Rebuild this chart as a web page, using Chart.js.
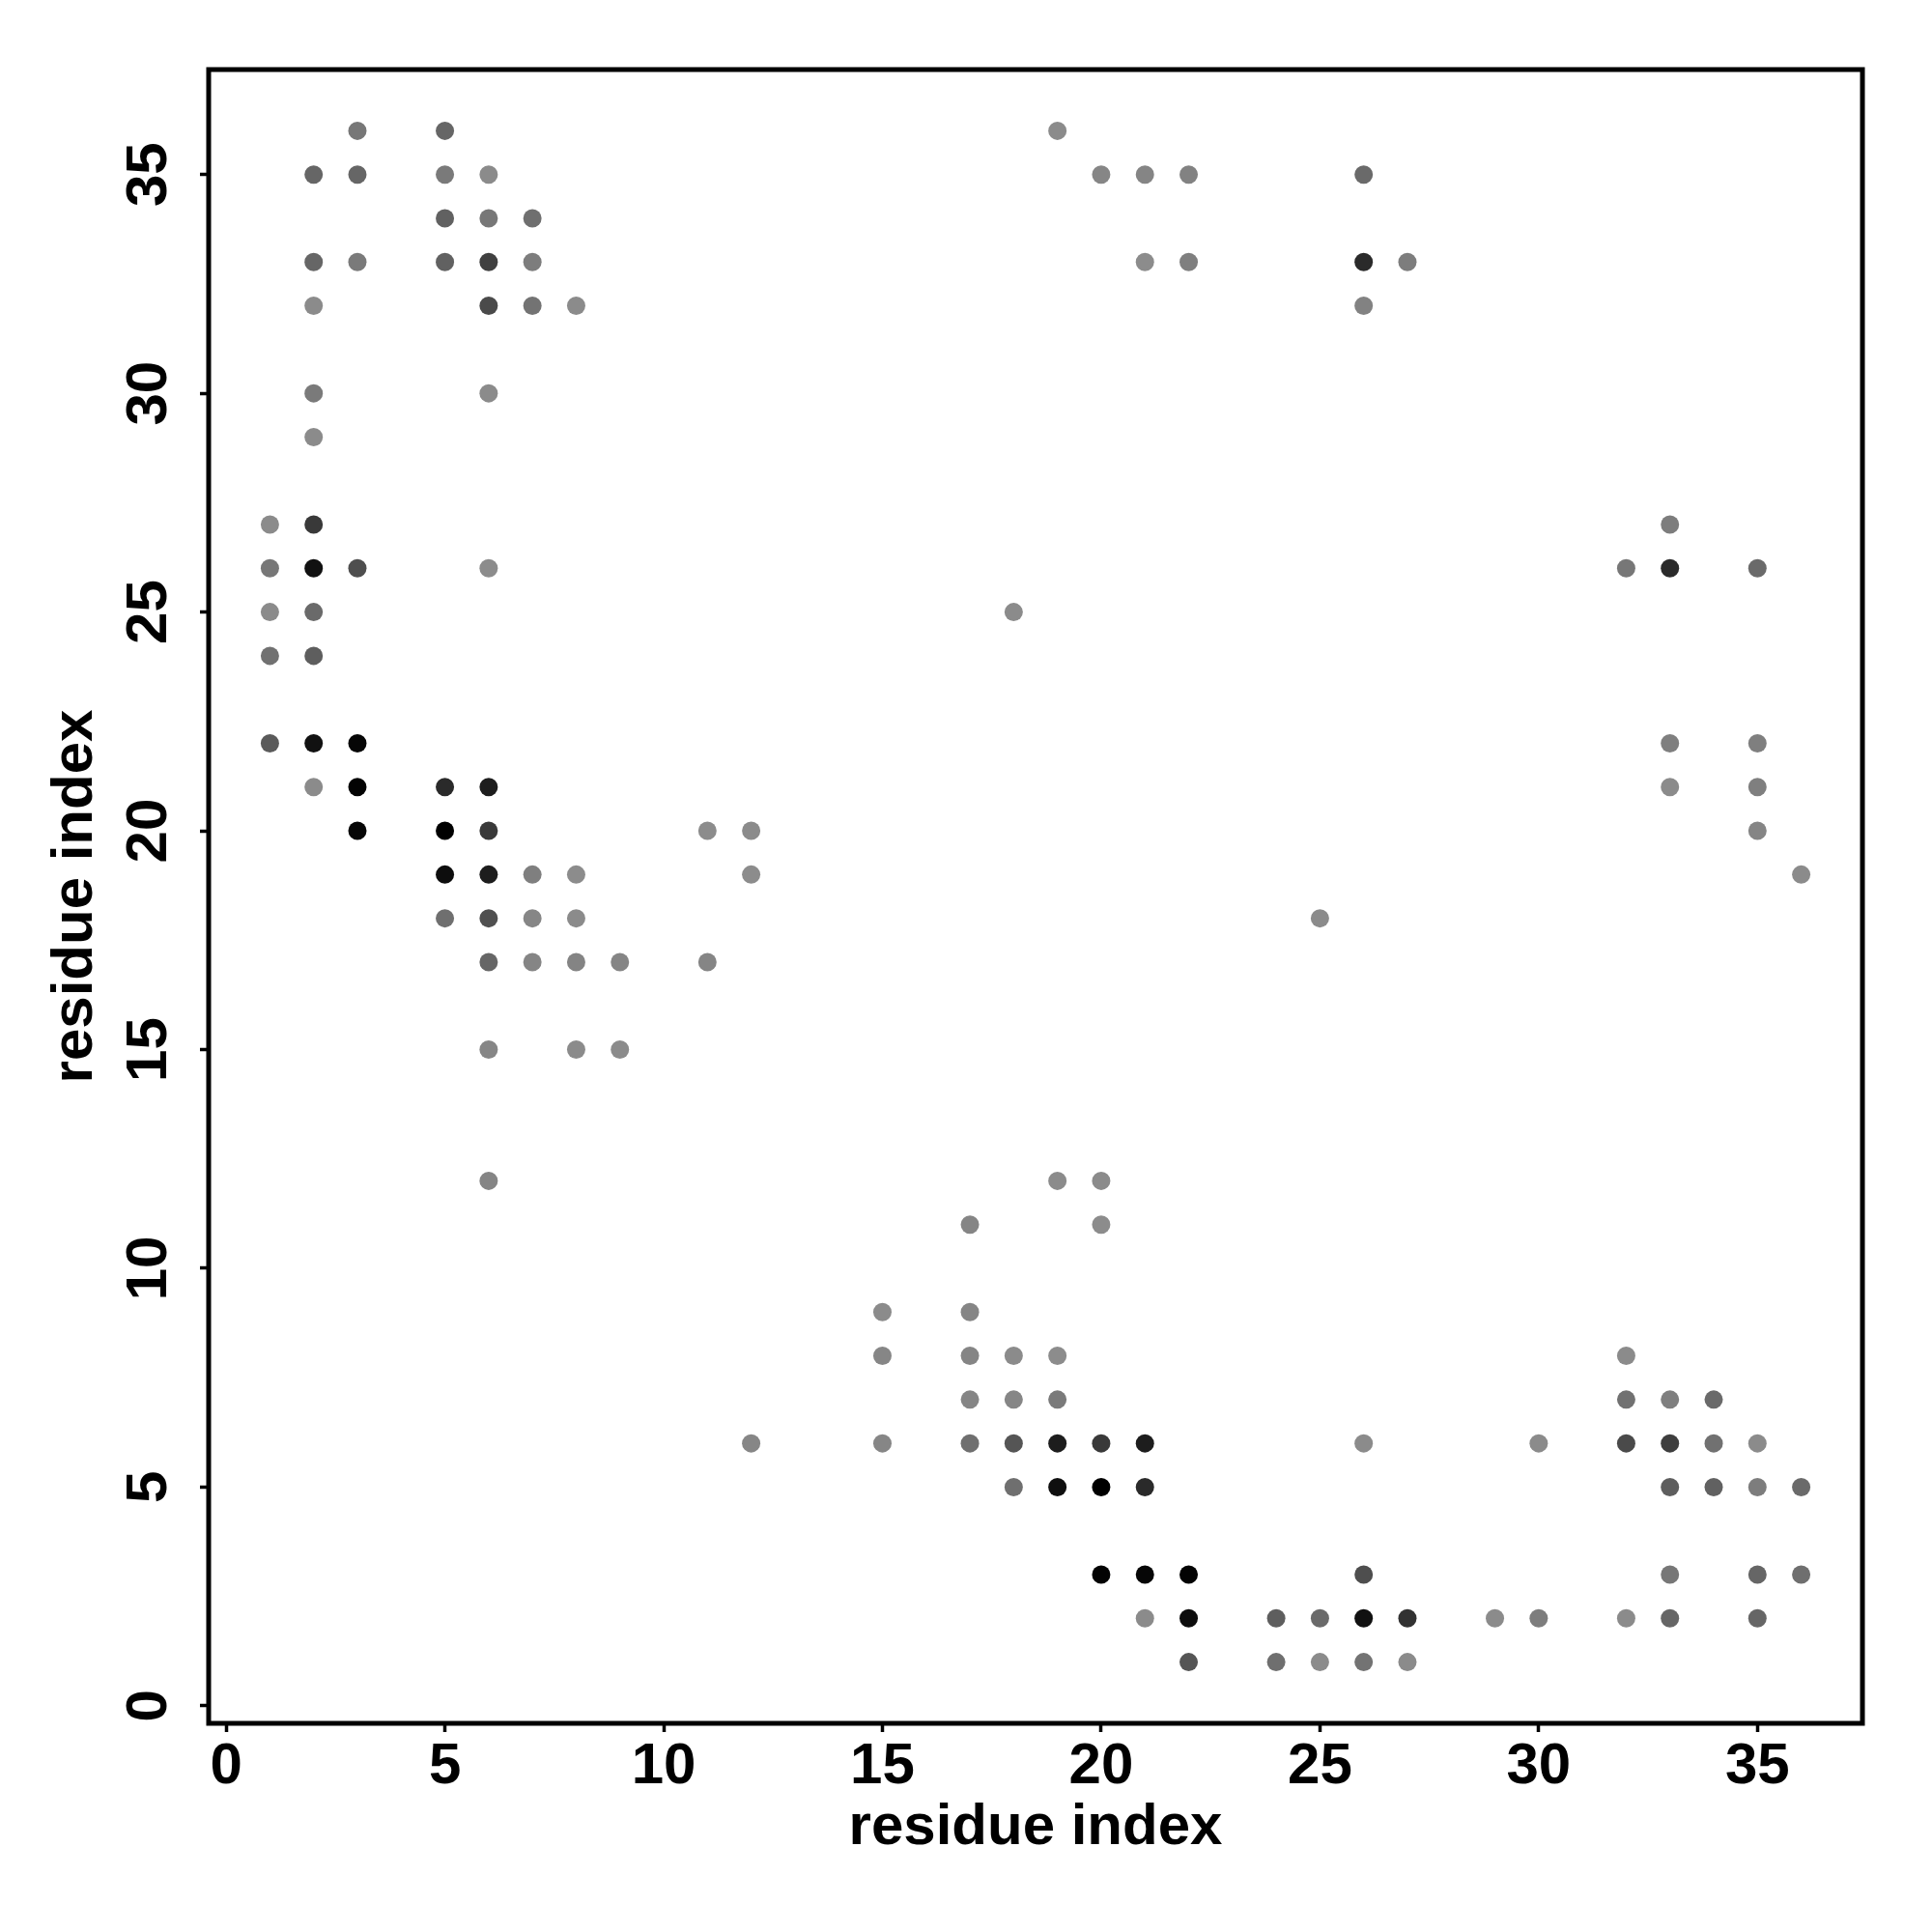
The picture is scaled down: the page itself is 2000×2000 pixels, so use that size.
<!DOCTYPE html>
<html>
<head>
<meta charset="utf-8">
<script src="https://cdn.jsdelivr.net/npm/chart.js@4.4.1/dist/chart.umd.min.js"></script>
<style>
  html, body { margin: 0; padding: 0; background: #fff; }
  canvas { display: block; }
</style>
</head>
<body>
<canvas id="contactMap" width="2000" height="2000"></canvas>
<script>
// residue pairs (column i, row j) and contact strength 0..1 (0 = light grey, 1 = black)
var RES_X = [
  1,1,1,1,1,
  2,2,2,2,2,2,2,2,2,2,2,
  3,3,3,3,3,3,3,
  5,5,5,5,5,5,5,5,
  6,6,6,6,6,6,6,6,6,6,6,6,6,
  7,7,7,7,7,7,
  8,8,8,8,8,
  9,9,
  11,11,
  12,12,12,
  15,15,15,
  17,17,17,17,17,
  18,18,18,18,18,
  19,19,19,19,19,19,
  20,20,20,20,20,20,
  21,21,21,21,21,21,
  22,22,22,22,22,
  24,24,
  25,25,25,
  26,26,26,26,26,26,26,
  27,27,27,
  29,
  30,30,
  32,32,32,32,32,
  33,33,33,33,33,33,33,33,33,
  34,34,34,
  35,35,35,35,35,35,35,35,
  36,36,36
];
var RES_Y = [
  27,26,25,24,22,
  35,33,32,30,29,27,26,25,24,22,21,
  36,35,33,26,22,21,20,
  36,35,34,33,21,20,19,18,
  35,34,33,32,30,26,21,20,19,18,17,15,12,
  34,33,32,19,18,17,
  32,19,18,17,15,
  17,15,
  20,17,
  20,19,6,
  9,8,6,
  11,9,8,7,6,
  25,8,7,6,5,
  36,12,8,7,6,5,
  35,12,11,6,5,3,
  35,33,6,5,3,2,
  35,33,3,2,1,
  2,1,
  18,2,1,
  35,33,32,6,3,2,1,
  33,2,1,
  2,
  6,2,
  26,8,7,6,2,
  27,26,22,21,7,6,5,3,2,
  7,6,5,
  26,22,21,20,6,5,3,2,
  19,5,3
];
var STRENGTH = [
  0.01,0.15,0.01,0.19,0.36,
  0.27,0.27,0.01,0.13,0.01,0.59,0.88,0.24,0.33,0.88,0.01,
  0.15,0.27,0.13,0.44,0.96,0.98,0.96,
  0.27,0.13,0.31,0.31,0.70,1.00,0.91,0.21,
  0.01,0.15,0.54,0.47,0.01,0.00,0.79,0.59,0.79,0.43,0.27,0.04,0.05,
  0.21,0.11,0.18,0.09,0.04,0.05,
  0.01,0.00,0.01,0.06,0.01,
  0.05,0.01,
  0.00,0.05,
  0.01,0.00,0.04,
  0.01,0.04,0.04,
  0.05,0.05,0.05,0.05,0.21,
  0.01,0.01,0.04,0.39,0.21,
  0.01,0.01,0.00,0.13,0.79,0.89,
  0.04,0.01,0.00,0.59,1.00,0.98,
  0.05,0.00,0.79,0.70,0.96,0.01,
  0.07,0.09,0.98,0.91,0.39,
  0.33,0.21,
  0.01,0.24,0.01,
  0.24,0.70,0.07,0.01,0.44,0.88,0.18,
  0.11,0.64,0.01,
  0.01,
  0.01,0.11,
  0.15,0.01,0.19,0.47,0.01,
  0.11,0.70,0.09,0.01,0.09,0.56,0.33,0.15,0.27,
  0.24,0.19,0.31,
  0.24,0.09,0.09,0.05,0.01,0.11,0.27,0.27,
  0.01,0.24,0.21
];
var AXIS_TICKS = [0, 5, 10, 15, 20, 25, 30, 35];
var AXIS_MIN = -0.4, AXIS_MAX = 37.4;
var AXIS_TITLE = 'residue index';

var FONT = 'Liberation Sans, Arial, Helvetica, sans-serif';

function shade(s) {
  var g = Math.round(140 * (1 - s));
  return 'rgb(' + g + ',' + g + ',' + g + ')';
}

var points = RES_X.map(function(x, i) { return {x: x, y: RES_Y[i]}; });
var colors = STRENGTH.map(shade);

/* box round the plot region, and y tick labels read bottom-to-top like R */
var framePlugin = {
  id: 'frame',
  afterDraw: function(chart) {
    var ctx = chart.ctx, a = chart.chartArea, ys = chart.scales.y;
    ctx.save();
    ctx.strokeStyle = '#000';
    ctx.lineWidth = 5;
    ctx.lineJoin = 'miter';
    ctx.strokeRect(a.left, a.top, a.right - a.left, a.bottom - a.top);
    ctx.fillStyle = '#000';
    ctx.font = 'bold 60px ' + FONT;
    ctx.textAlign = 'center';
    ctx.textBaseline = 'alphabetic';
    ys.ticks.forEach(function(t) {
      var py = ys.getPixelForValue(t.value);
      ctx.save();
      ctx.translate(ys.right - 44, py);
      ctx.rotate(-Math.PI / 2);
      ctx.fillText(String(t.value), 0, 0);
      ctx.restore();
    });
    ctx.restore();
  }
};

function setTicks(scale) {
  scale.ticks = AXIS_TICKS.map(function(v) { return {value: v}; });
}

var tickFont = {family: FONT, size: 60, weight: 'bold'};

new Chart(document.getElementById('contactMap'), {
  type: 'scatter',
  data: {
    datasets: [{
      data: points,
      backgroundColor: colors,
      borderWidth: 0,
      pointRadius: 9.5,
      pointHoverRadius: 9.5
    }]
  },
  options: {
    responsive: false,
    animation: false,
    events: [],
    layout: {padding: {top: 72, right: 72, left: 0, bottom: 0}},
    plugins: {legend: {display: false}, tooltip: {enabled: false}},
    scales: {
      x: {
        type: 'linear', min: AXIS_MIN, max: AXIS_MAX,
        afterBuildTicks: setTicks,
        afterFit: function(s) { s.height = 216; },
        border: {display: false},
        grid: {drawOnChartArea: false, drawTicks: true, tickLength: 9, tickWidth: 3.5, tickColor: '#000'},
        ticks: {font: tickFont, color: '#000', padding: 0, maxRotation: 0, autoSkip: false},
        title: {display: true, text: AXIS_TITLE, color: '#000', font: tickFont, padding: {top: 0, bottom: 72}}
      },
      y: {
        type: 'linear', min: AXIS_MIN, max: AXIS_MAX,
        afterBuildTicks: setTicks,
        afterFit: function(s) { s.width = 216; },
        border: {display: false},
        grid: {drawOnChartArea: false, drawTicks: true, tickLength: 9, tickWidth: 3.5, tickColor: '#000'},
        ticks: {display: false},
        title: {display: true, text: AXIS_TITLE, color: '#000', font: tickFont, padding: {top: 42, bottom: 0}}
      }
    }
  },
  plugins: [framePlugin]
});
</script>
</body>
</html>
